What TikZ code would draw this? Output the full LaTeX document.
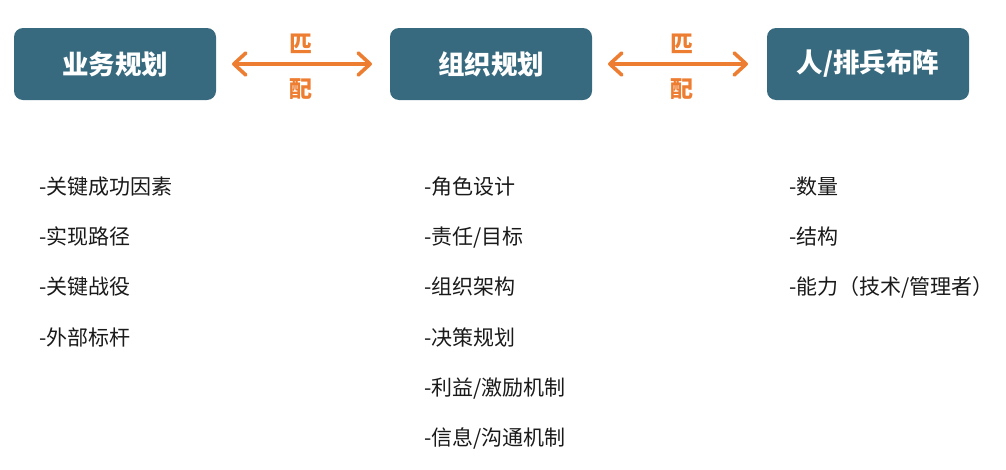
\documentclass[tikz,border=0pt]{standalone}
\usepackage{fontspec}
\setmainfont{Noto Sans CJK SC}
\usetikzlibrary{arrows.meta}
\definecolor{boxteal}{HTML}{376A7E}
\definecolor{match}{HTML}{ED7D31}
\definecolor{txt}{HTML}{1A1A1A}
\tikzset{
  head/.style={fill=boxteal, rounded corners=9pt, minimum width=202pt, minimum height=72pt, inner sep=0pt, text=white, font=\fontsize{26.5}{30}\selectfont\bfseries},
  link/.style={draw=match, line width=3.6pt, line cap=round, {Straight Barb[length=12pt,width=22pt,line cap=round,line join=round]}-{Straight Barb[length=12pt,width=22pt,line cap=round,line join=round]}},
  matchlbl/.style={text=match, font=\fontsize{23}{26}\selectfont\bfseries, inner sep=0pt},
  item/.style={anchor=west, inner sep=0pt, text height=17pt, text depth=3pt, text=txt, font=\fontsize{21}{24}\selectfont}
}
\begin{document}
\begin{tikzpicture}[x=1pt,y=-1pt]
\useasboundingbox (0,0) rectangle (1006,469);
\node[head] (b1) at (115,64) {业务规划};
\node[head] (b2) at (491,64) {组织规划};
\node[head] (b3) at (868,64) {人/排兵布阵};
\coordinate (a1l) at (232,64);
\coordinate (a1r) at (372,64);
\coordinate (a2l) at (608,64);
\coordinate (a2r) at (748,64);
\draw[link] (a1l) -- (a1r);
\draw[link] (a2l) -- (a2r);
\node[matchlbl] (m1) at (301,44) {匹};
\node[matchlbl] (p1) at (301,89) {配};
\node[matchlbl] (m2) at (682,44) {匹};
\node[matchlbl] (p2) at (682,89) {配};
\node[item] (l1) at (39,187) {-关键成功因素};
\node[item] (l2) at (39,237) {-实现路径};
\node[item] (l3) at (39,287) {-关键战役};
\node[item] (l4) at (39,338) {-外部标杆};
\node[item] (c1) at (424,187) {-角色设计};
\node[item] (c2) at (424,237) {-责任/目标};
\node[item] (c3) at (424,287) {-组织架构};
\node[item] (c4) at (424,338) {-决策规划};
\node[item] (c5) at (424,388) {-利益/激励机制};
\node[item] (c6) at (424,438) {-信息/沟通机制};
\node[item] (r1) at (789,187) {-数量};
\node[item] (r2) at (789,237) {-结构};
\node[item] (r3) at (789,287) {-能力（技术/管理者）};
\end{tikzpicture}
\end{document}
